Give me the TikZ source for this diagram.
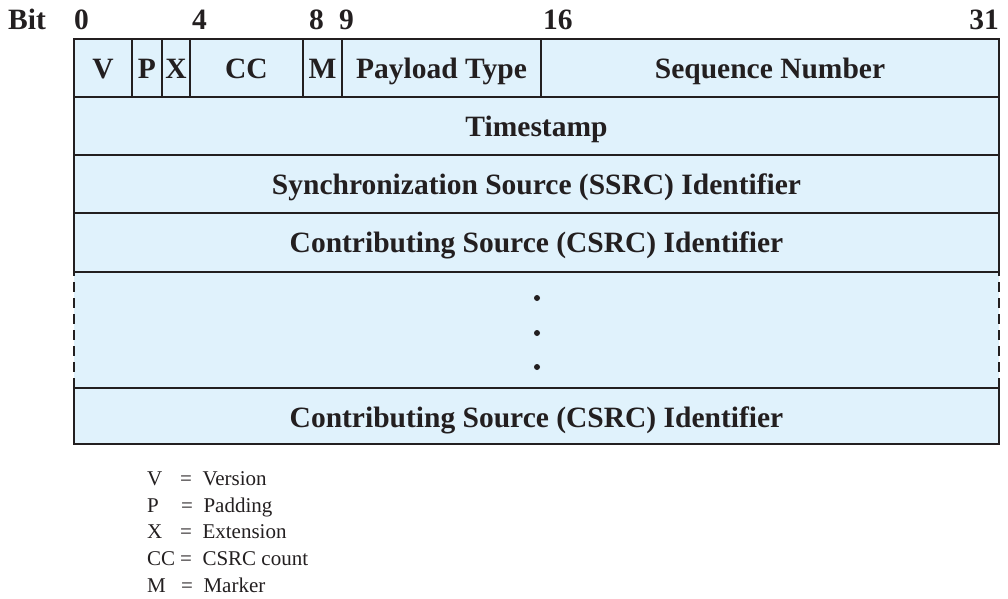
\documentclass[tikz,border=0pt]{standalone}
\usepackage{fontspec}
\setmainfont{Liberation Serif}
\definecolor{cellc}{RGB}{224,242,252}
\definecolor{linec}{RGB}{35,31,32}
\begin{document}
\begin{tikzpicture}[x=1pt,y=-1pt,
  cell/.style={draw=linec, fill=cellc, line width=1.8pt},
  lab/.style={font=\fontsize{29.5}{31}\selectfont\bfseries, text=linec, anchor=base, inner sep=0pt},
  leg/.style={font=\fontsize{21}{23}\selectfont, text=linec, anchor=base west, inner sep=0pt},
  dot/.style={circle, fill=linec, inner sep=0pt, minimum size=6pt}]
\useasboundingbox (0,0) rectangle (1008,598);
% bit labels
\node[lab, anchor=base west] (bit) at (8,29) {Bit};
\node[lab, anchor=base west] (b0) at (74,29) {0};
\node[lab, anchor=base west] (b4) at (192,29) {4};
\node[lab, anchor=base west] (b8) at (309,29) {8};
\node[lab, anchor=base west] (b9) at (339,29) {9};
\node[lab, anchor=base west] (b16) at (543,29) {16};
\node[lab, anchor=base east] (b31) at (999,29) {31};
% row 1
\draw[cell] (74,39) rectangle (132,97);
\draw[cell] (132,39) rectangle (162,97);
\draw[cell] (162,39) rectangle (190,97);
\draw[cell] (190,39) rectangle (303,97);
\draw[cell] (303,39) rectangle (342,97);
\draw[cell] (342,39) rectangle (541,97);
\draw[cell] (541,39) rectangle (999,97);
\node[lab] (v) at (103,78) {V};
\node[lab] (p) at (147,78) {P};
\node[lab] (x) at (176,78) {X};
\node[lab] (cc) at (246.5,78) {CC};
\node[lab] (m) at (322.5,78) {M};
\node[lab] (pt) at (441.5,78) {Payload Type};
\node[lab] (sn) at (770,78) {Sequence Number};
% rows 2-4
\draw[cell] (74,97) rectangle (999,155);
\node[lab] (ts) at (536.5,136) {Timestamp};
\draw[cell] (74,155) rectangle (999,213);
\node[lab] (ssrc) at (536.5,194) {Synchronization Source (SSRC) Identifier};
\draw[cell] (74,213) rectangle (999,272);
\node[lab] (csrc1) at (536.5,252.5) {Contributing Source (CSRC) Identifier};
% dashed row
\fill[cellc] (74,272) rectangle (999,388);
\draw[linec, line width=1.8pt, dash pattern=on 10pt off 6pt, dash phase=6pt] (74,272) -- (74,388);
\draw[linec, line width=1.8pt, dash pattern=on 10pt off 6pt, dash phase=6pt] (999,272) -- (999,388);
\node[dot] (d1) at (537,298) {};
\node[dot] (d2) at (537,333) {};
\node[dot] (d3) at (537,367) {};
% last row
\draw[cell] (74,388) rectangle (999,444);
\draw[linec, line width=1.8pt] (74,272) -- (999,272);
\node[lab] (csrc2) at (536.5,427) {Contributing Source (CSRC) Identifier};
% legend
\node[leg] (l1a) at (147,485) {V};
\node[leg] (l1b) at (180,485) {=\enspace Version};
\node[leg] (l2a) at (147,512) {P};
\node[leg] (l2b) at (181,512) {=\enspace Padding};
\node[leg] (l3a) at (147,538.5) {X};
\node[leg] (l3b) at (180,538.5) {=\enspace Extension};
\node[leg] (l4a) at (147,565) {CC};
\node[leg] (l4b) at (180,565) {=\enspace CSRC count};
\node[leg] (l5a) at (147,592) {M};
\node[leg] (l5b) at (181,592) {=\enspace Marker};
\end{tikzpicture}
\end{document}
